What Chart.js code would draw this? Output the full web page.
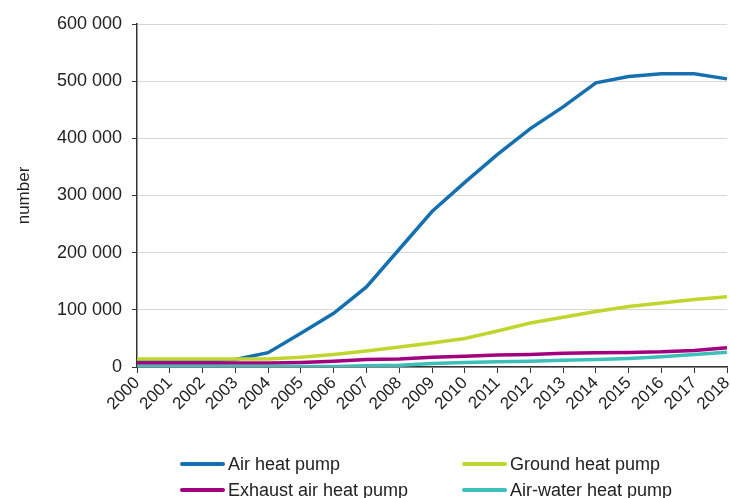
<!DOCTYPE html>
<html>
<head>
<meta charset="utf-8">
<script src="https://cdn.jsdelivr.net/npm/chart.js@4"></script>
<style>
  html, body { margin: 0; padding: 0; background: #fff; }
  #wrap { position: relative; width: 730px; height: 498px; overflow: hidden; font-family: "Liberation Sans", Arial, sans-serif; }
  #chart { position: absolute; left: 0; top: 0; }
  .leg { position: absolute; font-size: 18px; color: #222; white-space: nowrap; line-height: 20px; }
  .leg i { display: inline-block; width: 45px; height: 4px; border-radius: 2px; vertical-align: middle; margin-right: 3px; position: relative; top: -1px; }
</style>
</head>
<body>
<div id="wrap">
  <canvas id="chart" width="730" height="498"></canvas>
  <div id="legend"></div>
</div>
<script>
// ------ Datos ------
const years = ['2000','2001','2002','2003','2004','2005','2006','2007','2008','2009',
               '2010','2011','2012','2013','2014','2015','2016','2017','2018'];
const yTicks = [0, 100000, 200000, 300000, 400000, 500000, 600000];

const airHeat     = [9000, 10000, 11000, 13000, 25000, 59000, 94000, 140000, 206000, 272000,
                     323000, 372000, 417000, 455000, 497000, 508000, 513000, 513000, 504000];
const groundHeat  = [14000, 14000, 14000, 14000, 14000, 17000, 22000, 28000, 35000, 42000,
                     50000, 63000, 77000, 87000, 97000, 106000, 112000, 118000, 123000];
const exhaustHeat = [7000, 7000, 7000, 7000, 7000, 8000, 10000, 13000, 14000, 17000,
                     19000, 21000, 22000, 24000, 25000, 25500, 26500, 29000, 33500];
const airWater    = [1000, 1000, 1000, 1000, 1000, 1000, 1000, 2000, 3000, 6000,
                     8000, 9000, 10000, 12000, 13000, 15000, 18000, 22000, 26000];

const series = [
  { label: 'Air heat pump',         data: airHeat,     color: '#1670b0' },
  { label: 'Ground heat pump',      data: groundHeat,  color: '#c0d62e' },
  { label: 'Exhaust air heat pump', data: exhaustHeat, color: '#a3007f' },
  { label: 'Air-water heat pump',   data: airWater,    color: '#3cbfb8' },
];

const FONT = '"Liberation Sans", Arial, sans-serif';
const fmtNum = v => String(v).replace(/\B(?=(\d{3})+(?!\d))/g, ' ');

// ------ Chart.js ------
const chart = new Chart(document.getElementById('chart'), {
  type: 'line',
  data: {
    labels: years,
    datasets: series.map((s, i) => ({
      label: s.label,
      data: s.data,
      borderColor: s.color,
      backgroundColor: s.color,
      borderWidth: 3.5,
      pointRadius: 0,
      tension: 0,
      order: series.length - i,
    }))
  },
  options: {
    animation: false,
    responsive: false,
    layout: { padding: { top: 24, right: 3, bottom: 0, left: 0 } },
    plugins: { legend: { display: false }, tooltip: { enabled: false } },
    scales: {
      x: {
        offset: false,
        afterFit: s => { s.height = 131; s.paddingLeft = 0; s.paddingRight = 0; },
        grid: { drawOnChartArea: false, drawTicks: true, tickLength: 6, tickColor: '#333' },
        border: { color: '#333', width: 1.5 },
        ticks: { color: '#222', font: { family: FONT, size: 17 }, minRotation: 45, maxRotation: 45, autoSkip: false, padding: 0 }
      },
      y: {
        min: 0, max: 600000,
        afterFit: s => { s.width = 137; },
        afterBuildTicks: s => { s.ticks = yTicks.map(v => ({ value: v })); },
        grid: { color: '#d6d6d6', lineWidth: 1, tickLength: 5, tickColor: '#333' },
        border: { color: '#333', width: 1.5 },
        ticks: { color: '#222', font: { family: FONT, size: 18 }, padding: 10, callback: v => fmtNum(v) },
        title: { display: true, text: 'number', color: '#222', font: { family: FONT, size: 17 }, padding: { top: 14, bottom: 0 } }
      }
    }
  }
});

// ------ Leyenda ------
const legPos = [[180, 454], [462, 454], [180, 480], [462, 480]];
document.getElementById('legend').innerHTML = series.map((s, i) =>
  `<div class="leg" style="left:${legPos[i][0]}px;top:${legPos[i][1]}px"><i style="background:${s.color}"></i>${s.label}</div>`
).join('');
</script>
</body>
</html>
